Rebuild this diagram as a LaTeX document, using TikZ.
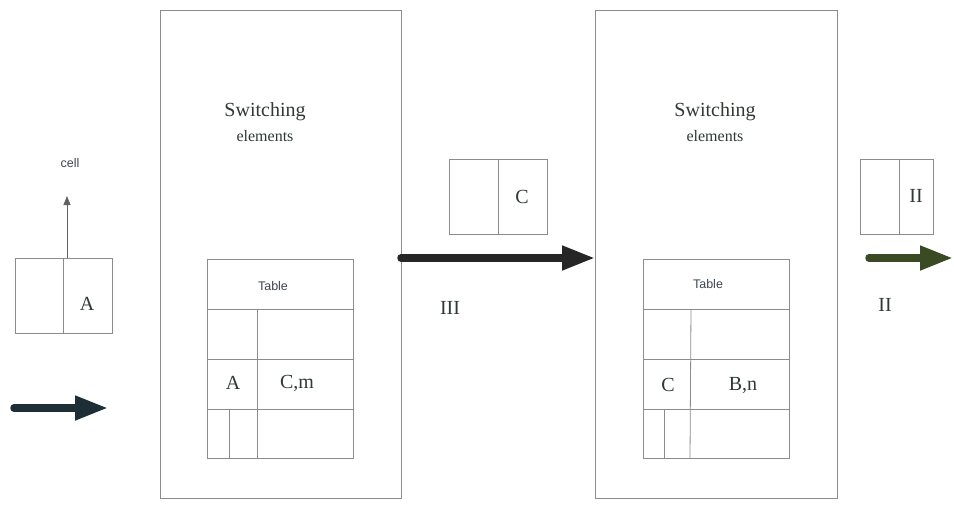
\documentclass[tikz,border=0pt]{standalone}
\usepackage{fontspec}
\setmainfont{Liberation Serif}
\newfontfamily\arialfont{Liberation Sans}
\usetikzlibrary{arrows.meta}
\definecolor{frame}{HTML}{8C8C8C}
\definecolor{ink}{HTML}{2F3A33}
\definecolor{sansink}{HTML}{3C4650}
\definecolor{arrowA}{HTML}{1E2E36}
\definecolor{arrowB}{HTML}{262626}
\definecolor{arrowC}{HTML}{3A4A22}
\tikzset{
  box/.style={draw=frame, line width=0.8pt, inner sep=0pt, outer sep=0pt},
  rule/.style={draw=frame, line width=0.8pt},
  serif/.style={text=ink, inner sep=0pt, font=\fontsize{20}{22}\selectfont},
  serifsmall/.style={text=ink, inner sep=0pt, font=\fontsize{16}{18}\selectfont},
  sanslabel/.style={text=sansink, inner sep=0pt, font=\arialfont\fontsize{12.5}{14}\selectfont},
  flow/.style={line width=7.5pt, line cap=round, -{Triangle[length=33pt,width=23pt]}},
}
\begin{document}
\begin{tikzpicture}[x=1pt,y=-1pt]
\useasboundingbox (0,0) rectangle (954,509);
\fill[white] (0,0) rectangle (954,509);

% incoming cell with its label
\node[box, minimum width=97pt, minimum height=75pt] (cellA) at (63.5,295.5) {};
\draw[rule] (63,258) -- (63,333);
\node[serif] (cellAlbl) at (87,304) {A};
\node[sanslabel] (celltxt) at (70,163) {cell};
\coordinate (cellTop) at (67,258);
\coordinate (cellTip) at (67,196);
\draw[draw=frame!70!black, line width=0.8pt, -{Triangle[length=9pt,width=7pt]}] (cellTop) -- (cellTip);

% input arrow
\coordinate (inStart) at (14,408);
\coordinate (inEnd) at (108,408);
\draw[flow, arrowA] (inStart) -- (inEnd);

% first switching element
\node[box, minimum width=241pt, minimum height=488pt] (sw1) at (280.5,254) {};
\node[serif] (sw1a) at (265,112) {Switching};
\node[serifsmall] (sw1b) at (265,136) {elements};
\node[box, minimum width=146pt, minimum height=199pt] (tab1) at (280,358.5) {};
\draw[rule] (207,309) -- (353,309);
\draw[rule] (207,359) -- (353,359);
\draw[rule] (207,409) -- (353,409);
\draw[rule] (257,309) -- (257,458);
\draw[rule] (229,409) -- (229,458);
\node[sanslabel] (tab1h) at (273,286) {Table};
\node[serif] (tab1a) at (233,383) {A};
\node[serif] (tab1b) at (297,383) {C,m};

% cell between the two elements
\node[box, minimum width=98pt, minimum height=75pt] (cellC) at (498,196.5) {};
\draw[rule] (498,159) -- (498,234);
\node[serif] (cellClbl) at (522,197) {C};
\draw[flow, arrowB] (sw1.east |- 0,258) -- (595,258);
\node[serif] (lblIII) at (450,308) {III};

% second switching element
\node[box, minimum width=242pt, minimum height=488pt] (sw2) at (716,254) {};
\node[serif] (sw2a) at (715,112) {Switching};
\node[serifsmall] (sw2b) at (715,136) {elements};
\node[box, minimum width=146pt, minimum height=199pt] (tab2) at (716,358.5) {};
\draw[rule] (643,309) -- (789,309);
\draw[rule] (643,359) -- (789,359);
\draw[rule] (643,409) -- (789,409);
\draw[rule] (691,309) -- (690,458);
\draw[rule] (664,409) -- (664,458);
\node[sanslabel] (tab2h) at (708,284) {Table};
\node[serif] (tab2a) at (668,385) {C};
\node[serif] (tab2b) at (743,385) {B,n};

% outgoing cell
\node[box, minimum width=73pt, minimum height=75pt] (cellII) at (896.5,196.5) {};
\draw[rule] (899,159) -- (899,234);
\node[serif] (cellIIlbl) at (916,196) {II};
\coordinate (outStart) at (869,258);
\coordinate (outEnd) at (953,258);
\draw[flow, arrowC] (outStart) -- (outEnd);
\node[serif] (lblII) at (885,305) {II};
\end{tikzpicture}
\end{document}
